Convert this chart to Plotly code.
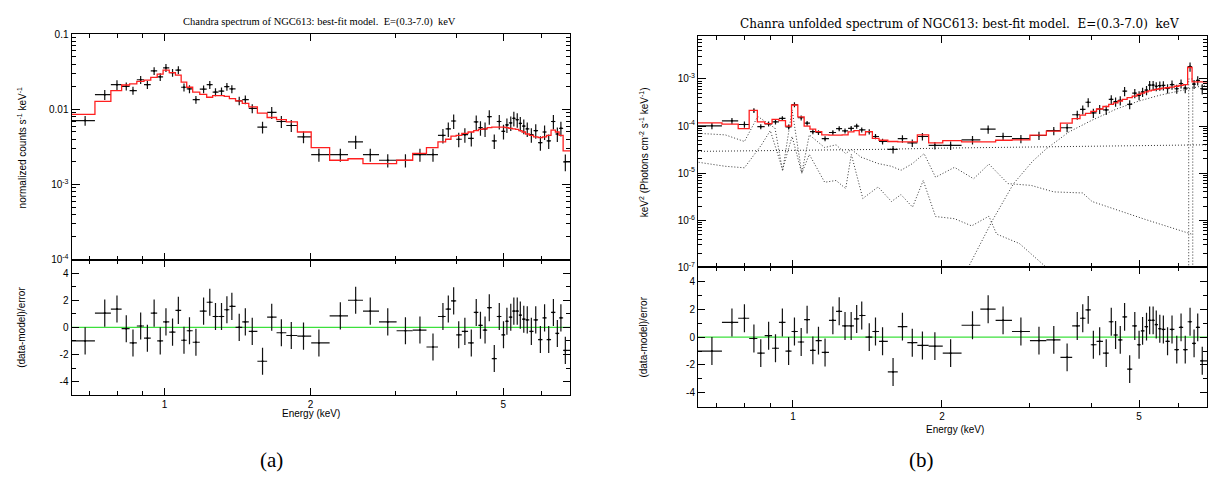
import numpy as np
import plotly.graph_objects as go

W, H = 1214, 485

# ---------------- spectral bins (keV) ----------------
e_lo, e_hi = 0.643, 6.86
energy = [0.686, 0.753, 0.798, 0.834, 0.861, 0.893, 0.922, 0.952, 0.980, 1.007,
          1.039, 1.068, 1.097, 1.126, 1.161, 1.204, 1.240, 1.274, 1.311, 1.345,
          1.377, 1.426, 1.468, 1.517, 1.593, 1.664, 1.742, 1.826, 1.935, 2.082,
          2.305, 2.479, 2.657, 2.887, 3.140, 3.364, 3.579, 3.752, 3.849, 3.948,
          4.044, 4.164, 4.293, 4.395, 4.484, 4.583, 4.676, 4.788, 4.903, 5.002,
          5.084, 5.178, 5.254, 5.340, 5.418, 5.508, 5.600, 5.710, 5.830, 5.960,
          6.080, 6.200, 6.340, 6.460, 6.570, 6.710]

# (data-model)/error
residual = [-1.0, 1.05, 1.35, -0.1, -1.15, 0.1, -0.8, 1.05, -1.0, 0.4,
            -0.35, 1.25, -0.95, -0.25, -1.1, 1.2, 1.85, 0.8, 0.8, 1.3,
            1.55, 0.0, 0.4, -0.3, -2.5, 0.75, -0.4, -0.6, -0.65, -1.15,
            0.85, 2.0, 1.2, 0.4, -0.25, -0.2, -1.45, 0.8, 1.35, 1.95,
            -0.55, -0.3, -1.15, 1.1, 0.15, -0.2, 1.45, -2.3, 0.8, -0.55,
            0.45, 0.75, 1.2, 1.2, 0.9, 0.6, 0.55, -0.3, 0.55, -0.9,
            0.7, -0.9, 1.1, -0.45, 0.7, -1.7]

# folded spectrum: normalized counts s^-1 keV^-1
counts = [0.0071, 0.0157, 0.0213, 0.0203, 0.0178, 0.0248, 0.0213, 0.0325, 0.0271, 0.0358,
          0.0308, 0.0334, 0.0197, 0.0187, 0.0135, 0.0186, 0.0213, 0.0170, 0.0175, 0.0201,
          0.0187, 0.0130, 0.0135, 0.0103, 0.0058, 0.0091, 0.0069, 0.0061, 0.0043, 0.0025,
          0.0025, 0.0037, 0.0025, 0.0021, 0.0021, 0.0025, 0.0025, 0.0045, 0.0055, 0.0070,
          0.0040, 0.0046, 0.0041, 0.0068, 0.0057, 0.0055, 0.0080, 0.0038, 0.0069, 0.0051,
          0.0062, 0.0066, 0.0076, 0.0073, 0.0065, 0.0060, 0.0055, 0.0046, 0.0052, 0.0036,
          0.0050, 0.0038, 0.0069, 0.0047, 0.0056, 0.0020]
counts_model = [0.0086, 0.0128, 0.0178, 0.0211, 0.0218, 0.0236, 0.0245, 0.0266, 0.0294, 0.0334,
                0.0309, 0.0285, 0.0230, 0.0197, 0.0170, 0.0158, 0.0145, 0.0152, 0.0152, 0.0149,
                0.0139, 0.0130, 0.0120, 0.0108, 0.0089, 0.0078, 0.0073, 0.0068, 0.0050, 0.0031,
                0.0021, 0.0022, 0.0019, 0.0019, 0.0021, 0.0026, 0.0031, 0.0037, 0.0040, 0.0044,
                0.0045, 0.0048, 0.0050, 0.0052, 0.0054, 0.0055, 0.0057, 0.0058, 0.0058, 0.0058,
                0.0057, 0.0056, 0.0055, 0.0054, 0.0052, 0.0050, 0.0047, 0.0045, 0.0043, 0.0042,
                0.0043, 0.0045, 0.0053, 0.0050, 0.0045, 0.0028]
# fractional 1-sigma errors of each bin
rel_err = [0.15, 0.15, 0.15, 0.12, 0.12, 0.12, 0.12, 0.12, 0.12, 0.12,
           0.12, 0.12, 0.12, 0.12, 0.12, 0.12, 0.12, 0.12, 0.12, 0.12,
           0.12, 0.13, 0.13, 0.14, 0.18, 0.18, 0.18, 0.18, 0.18, 0.20,
           0.20, 0.20, 0.20, 0.20, 0.20, 0.20, 0.20, 0.22, 0.22, 0.22,
           0.22, 0.22, 0.22, 0.22, 0.22, 0.22, 0.22, 0.22, 0.22, 0.22,
           0.22, 0.22, 0.22, 0.22, 0.22, 0.22, 0.22, 0.22, 0.22, 0.22,
           0.22, 0.22, 0.22, 0.22, 0.22, 0.25]

# unfolded spectrum: keV^2 (photons cm^-2 s^-1 keV^-1)
unfolded = [1.01e-4, 1.29e-4, 1.08e-4, 2.14e-4, 0.97e-4, 1.11e-4, 1.23e-4, 1.45e-4, 0.96e-4, 2.85e-4,
            1.50e-4, 1.15e-4, 7.6e-5, 7.3e-5, 5.4e-5, 7.3e-5, 8.8e-5, 7.9e-5, 8.9e-5, 1.0e-4,
            8.3e-5, 7.6e-5, 6.0e-5, 4.7e-5, 3.2e-5, 5.4e-5, 4.4e-5, 6.0e-5, 3.9e-5, 3.9e-5,
            5.1e-5, 8.6e-5, 6.0e-5, 5.4e-5, 6.3e-5, 8.0e-5, 9.2e-5, 1.74e-4, 2.25e-4, 3.2e-4,
            1.9e-4, 2.3e-4, 2.2e-4, 3.7e-4, 3.3e-4, 3.5e-4, 5.5e-4, 2.9e-4, 5.0e-4, 4.5e-4,
            5.3e-4, 5.8e-4, 7.4e-4, 7.4e-4, 7.0e-4, 7.2e-4, 7.3e-4, 6.3e-4, 7.6e-4, 6.2e-4,
            8.0e-4, 6.4e-4, 1.83e-3, 7.8e-4, 9.3e-4, 6.2e-4]
unfolded_model = [1.17e-4, 1.10e-4, 8.8e-5, 2.15e-4, 1.23e-4, 1.13e-4, 1.39e-4, 1.30e-4, 1.0e-4, 2.8e-4,
                  1.56e-4, 1.0e-4, 8.6e-5, 7.6e-5, 6.5e-5, 6.4e-5, 6.4e-5, 6.5e-5, 7.5e-5, 8.0e-5,
                  6.5e-5, 7.6e-5, 5.5e-5, 5.0e-5, 4.7e-5, 4.6e-5, 4.6e-5, 6.5e-5, 4.4e-5, 4.9e-5,
                  4.6e-5, 4.6e-5, 5.0e-5, 5.1e-5, 6.4e-5, 7.8e-5, 1.15e-4, 1.44e-4, 1.7e-4, 1.85e-4,
                  2.05e-4, 2.3e-4, 2.6e-4, 2.9e-4, 3.1e-4, 3.4e-4, 3.7e-4, 4.0e-4, 4.3e-4, 4.7e-4,
                  5.0e-4, 5.3e-4, 5.6e-4, 5.8e-4, 6.0e-4, 6.2e-4, 6.4e-4, 6.5e-4, 6.7e-4, 7.0e-4,
                  7.3e-4, 7.6e-4, 1.75e-3, 8.7e-4, 8.7e-4, 8.7e-4]

# additive model components of the unfolded fit
pl_E = [0.643, 1.0, 1.5, 2.0, 3.0, 4.0, 5.0, 6.86]
pl_val = [2.9e-5, 3.0e-5, 3.2e-5, 3.4e-5, 3.6e-5, 3.7e-5, 3.8e-5, 4.0e-5]

abspl_E = [2.20, 2.26, 2.53, 2.79, 3.05, 3.25, 3.61, 4.0, 4.5, 5.0, 5.5, 6.0, 6.5, 6.86]
abspl_val = [5e-8, 1.0e-7, 1.0e-6, 6.0e-6, 1.8e-5, 3.3e-5, 7.5e-5, 1.3e-4, 2.3e-4, 3.4e-4,
             4.5e-4, 5.5e-4, 6.6e-4, 7.5e-4]

fe_E = [6.25, 6.30, 6.30, 6.42, 6.42, 6.50]
fe_val = [5e-8, 5e-8, 1.0e-3, 1.0e-3, 5e-8, 5e-8]

hot_E = [0.645, 0.730, 0.798, 0.849, 0.920, 0.953, 0.996, 1.042, 1.079, 1.159,
         1.222, 1.278, 1.312, 1.371, 1.486, 1.581, 1.653, 1.744, 1.840, 1.941,
         2.120, 2.317, 2.488, 2.718, 3.027, 3.365, 3.846, 4.02, 5.15, 6.38]
hot_val = [7.0e-5, 6.5e-5, 4.7e-5, 1.6e-4, 9.0e-5, 1.1e-5, 2.2e-4, 1.0e-5, 6.5e-5, 3.5e-5,
           4.0e-5, 2.6e-5, 3.2e-5, 2.2e-5, 1.6e-5, 1.4e-5, 1.15e-5, 1.6e-5, 2.6e-5, 8.2e-6,
           1.33e-5, 7.6e-6, 1.56e-5, 6.0e-6, 5.5e-6, 4.0e-6, 3.8e-6, 2.5e-6, 1.04e-6, 5.1e-7]

cool_E = [0.645, 0.730, 0.798, 0.864, 0.900, 0.953, 0.996, 1.042, 1.079, 1.159,
          1.222, 1.278, 1.312, 1.384, 1.486, 1.581, 1.653, 1.744, 1.833, 1.941,
          2.120, 2.296, 2.488, 2.578, 2.868, 3.249, 3.40]
cool_val = [1.7e-5, 1.4e-5, 1.3e-5, 4.0e-5, 8.0e-5, 1.2e-5, 6.0e-5, 1.0e-5, 2.5e-5, 6.4e-6,
            7.0e-6, 4.7e-6, 2.5e-5, 2.9e-6, 5.1e-6, 2.5e-6, 3.5e-6, 1.9e-6, 7.0e-6, 1.2e-6,
            1.08e-6, 7.6e-7, 1.22e-6, 5.1e-7, 3.2e-7, 1.0e-7, 5e-8]

left_ticks = [1e-4, 1e-3, 1e-2, 1e-1]
left_ticktext = ["10<sup>-4</sup>", "10<sup>-3</sup>", "0.01", "0.1"]
right_ticks = [1e-7, 1e-6, 1e-5, 1e-4, 1e-3]
right_ticktext = ["10<sup>-7</sup>", "10<sup>-6</sup>", "10<sup>-5</sup>", "10<sup>-4</sup>", "10<sup>-3</sup>"]
x_ticks = [1, 2, 5]
x_ticktext = ["1", "2", "5"]
x_minor = [0.7, 0.8, 0.9, 3, 4, 6]

# ---------------- derived bin geometry ----------------
E = np.array(energy)
mids = np.sqrt(E[:-1] * E[1:])
edges = np.concatenate([[e_lo], mids, [e_hi]])
xminus = E - edges[:-1]
xplus = edges[1:] - E

fig = go.Figure()


def px_x(p):
    return p / W


def px_y(p):
    return 1 - p / H


SANS = "Liberation Sans"
AX = dict(showline=True, linecolor="black", linewidth=1, mirror="ticks",
          ticks="inside", tickcolor="black", showgrid=False, zeroline=False,
          tickfont=dict(family=SANS, size=10, color="black"))


def minor_log(lo_dec, hi_val):
    vals = []
    for d in range(lo_dec, 0):
        for k in range(2, 10):
            v = k * 10.0 ** d
            if v < hi_val:
                vals.append(v)
    return vals


panels = [
    dict(xa="x", ya="y", xr="x2", yr="y2", xd=(71.5, 570), top=29, mid=260, bot=399,
         data=counts, model=counts_model, yrange=[-4, -1], tv=left_ticks, tt=left_ticktext),
    dict(xa="x3", ya="y3", xr="x4", yr="y4", xd=(698, 1207), top=31, mid=268, bot=411,
         data=unfolded, model=unfolded_model, yrange=[-7, -2.093], tv=right_ticks, tt=right_ticktext),
]

layout_axes = {}
for i, p in enumerate(panels):
    d = np.array(p["data"])
    err = d * np.array(rel_err)
    xref_top, yref_top = p["xa"], p["ya"]
    xref_res, yref_res = p["xr"], p["yr"]

    # model components (unfolded panel only)
    if i == 1:
        for cx, cy in [(pl_E, pl_val), (abspl_E, abspl_val), (hot_E, hot_val),
                       (cool_E, cool_val), (fe_E, fe_val)]:
            fig.add_trace(go.Scatter(x=cx, y=cy, mode="lines", xaxis=xref_top, yaxis=yref_top,
                                     line=dict(color="#333333", width=1, dash="1px,2px"),
                                     showlegend=False, hoverinfo="skip"))

    # data with error crosses
    fig.add_trace(go.Scatter(
        x=energy, y=p["data"], mode="markers", xaxis=xref_top, yaxis=yref_top,
        marker=dict(size=2, color="black"),
        error_x=dict(type="data", symmetric=False, array=xplus, arrayminus=xminus,
                     width=0, thickness=1.2, color="#111111"),
        error_y=dict(type="data", array=err, width=0, thickness=1.2, color="#111111"),
        showlegend=False))
    # best-fit model histogram
    fig.add_trace(go.Scatter(
        x=edges, y=list(p["model"]) + [p["model"][-1]], mode="lines", line_shape="hv",
        xaxis=xref_top, yaxis=yref_top, line=dict(color="#ff1f1f", width=1.3),
        showlegend=False))

    # residuals
    fig.add_trace(go.Scatter(x=[e_lo, e_hi], y=[0, 0], mode="lines", xaxis=xref_res, yaxis=yref_res,
                             line=dict(color="#3ce03c", width=1.3), showlegend=False))
    fig.add_trace(go.Scatter(
        x=energy, y=residual, mode="markers", xaxis=xref_res, yaxis=yref_res,
        marker=dict(size=2, color="black"),
        error_x=dict(type="data", symmetric=False, array=xplus, arrayminus=xminus,
                     width=0, thickness=1.2, color="#111111"),
        error_y=dict(type="data", array=[1.0] * len(residual), width=0, thickness=1.2,
                     color="#111111"),
        showlegend=False))

    xdom = [px_x(p["xd"][0]), px_x(p["xd"][1])]
    xr = [np.log10(e_lo), np.log10(e_hi)]
    xcommon = dict(AX, domain=xdom, type="log", range=xr, tickvals=x_ticks, ticktext=x_ticktext,
                   ticklen=7, minor=dict(tickvals=x_minor, ticks="inside", ticklen=4,
                                         tickcolor="black"))
    layout_axes["xaxis" + xref_top[1:]] = dict(xcommon, anchor=yref_top, showticklabels=False)
    layout_axes["xaxis" + xref_res[1:]] = dict(xcommon, anchor=yref_res, showticklabels=True)
    layout_axes["yaxis" + yref_top[1:]] = dict(
        AX, domain=[px_y(p["mid"]), px_y(p["top"])], anchor=xref_top, type="log",
        range=p["yrange"], tickvals=p["tv"], ticktext=p["tt"], ticklen=8,
        minor=dict(tickvals=minor_log(p["yrange"][0], 10 ** p["yrange"][1]), ticks="inside",
                   ticklen=4, tickcolor="black"))
    layout_axes["yaxis" + yref_res[1:]] = dict(
        AX, domain=[px_y(p["bot"]), px_y(p["mid"])], anchor=xref_res, range=[-5, 5],
        tickvals=[-4, -2, 0, 2, 4], ticktext=["-4", "-2", "0", "2", "4"], ticklen=7,
        minor=dict(tickvals=[-3, -1, 1, 3], ticks="inside", ticklen=4, tickcolor="black"))

fig.update_layout(width=W, height=H, margin=dict(l=0, r=0, t=0, b=0),
                  paper_bgcolor="white", plot_bgcolor="white", showlegend=False, **layout_axes)


def note(text, xp, yp, size, family=SANS, angle=0):
    fig.add_annotation(text=text, x=px_x(xp), y=px_y(yp), xref="paper", yref="paper",
                       showarrow=False, textangle=angle, xanchor="center", yanchor="middle",
                       font=dict(family=family, size=size, color="black"))


note("Chandra spectrum of NGC613: best-fit model.  E=(0.3-7.0)  keV", 319, 16, 10.5,
     family="Liberation Serif")
note("Chanra unfolded spectrum of NGC613: best-fit model.  E=(0.3-7.0)  keV", 959, 18, 12,
     family="DejaVu Serif")
note("normalized counts s<sup>-1</sup> keV<sup>-1</sup>", 22, 145, 10, angle=-90)
note("(data-model)/error", 22, 330, 10, angle=-90)
note("keV<sup>2</sup> (Photons cm<sup>-2</sup> s<sup>-1</sup> keV<sup>-1</sup>)", 644, 150, 10, angle=-90)
note("(data-model)/error", 644, 340, 10, angle=-90)
note("Energy (keV)", 311, 418, 10)
note("Energy (keV)", 955, 434, 10)
note("(a)", 271, 466, 21, family="Liberation Serif")
note("(b)", 921, 466, 21, family="Liberation Serif")

fig.write_html("out.html")
